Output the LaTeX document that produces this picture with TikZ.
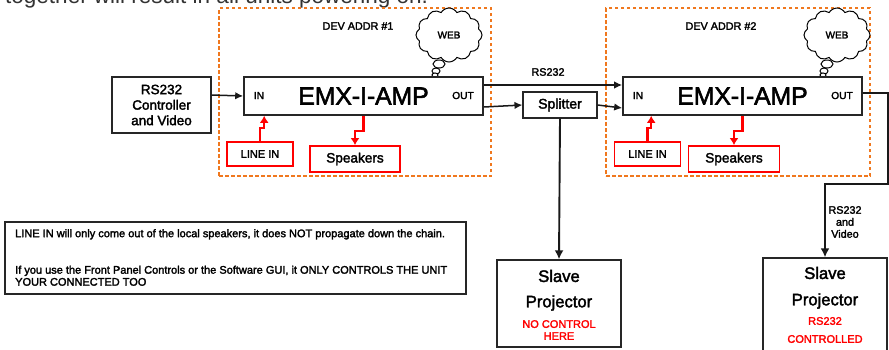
\documentclass[tikz,border=0pt]{standalone}
\usepackage{fontspec}
\setmainfont{Liberation Sans}
\newfontfamily\semib[FakeBold=2.2]{Liberation Sans}
\usetikzlibrary{shapes.symbols,shapes.geometric,arrows.meta,calc}
\definecolor{dashor}{RGB}{240,120,30}
\newcommand{\fs}[2]{\fontsize{#1}{#2}\selectfont}
\tikzset{
  box/.style={draw=black!85,line width=1.4pt,fill=white,inner sep=0pt,align=center,text=black},
  ampbox/.style={box,line width=1.6pt,minimum width=239,minimum height=38,font=\semib\fs{24.7}{26}},
  redbox/.style={draw=red,line width=1.8pt,fill=white,inner sep=0pt,align=center,font=\semib\fs{11}{12}},
  zone/.style={draw=dashor,line width=1.2pt,dash pattern=on 3.5pt off 2.5pt},
  lbl/.style={inner sep=0pt,align=center,font=\semib\fs{10.8}{12}},
  plug/.style={inner sep=0pt,font=\semib\fs{10.2}{12}},
  webcloud/.style={cloud,cloud puffs=12,cloud puff arc=120,aspect=1.2,draw=black,line width=1pt,fill=white,inner sep=0pt,minimum width=66,minimum height=54,font=\semib\fs{10}{12}},
  puff/.style={ellipse,draw=black,line width=1pt,fill=white,inner sep=0pt},
  wire/.style={draw=black!90,line width=1.5pt,-{Latex[length=8pt,width=7.5pt]}},
  heavywire/.style={wire,line width=1.9pt,-{Latex[length=9pt,width=9pt]}},
  redwire/.style={draw=red,line width=2.1pt,-{Latex[length=7pt,width=9pt]}},
}
\begin{document}
\begin{tikzpicture}[x=1pt,y=-1pt]
\useasboundingbox (0,0) rectangle (889,349);
\clip (0,0) rectangle (889,349);
% truncated heading
\node[anchor=base west,inner sep=0pt,text=black!80,font=\fs{22.5}{24}] (head) at (5,3) {together will result in all units powering on.};
% dashed zones
\node[zone,minimum width=272,minimum height=168,inner sep=0pt] (zone1) at (355,92) {};
\node[zone,minimum width=264,minimum height=168,inner sep=0pt] (zone2) at (738,92) {};
\node[lbl] (addr1) at (358,26) {DEV ADDR \#1};
\node[lbl] (addr2) at (721,26) {DEV ADDR \#2};
% clouds
\node[webcloud] (web1) at (449,35) {WEB};
\node[webcloud] (web2) at (837,35) {WEB};
\node[puff,minimum width=12,minimum height=8] (p1a) at (439,64) {};
\node[puff,minimum width=8,minimum height=6] (p1b) at (436,71) {};
\node[puff,minimum width=6,minimum height=4] (p1c) at (435,75) {};
\node[puff,minimum width=12,minimum height=8] (p2a) at (827,64) {};
\node[puff,minimum width=8,minimum height=6] (p2b) at (824,71) {};
\node[puff,minimum width=6,minimum height=4] (p2c) at (823,75) {};
% boxes
\node[box,minimum width=99,minimum height=56,font=\semib\fs{13.5}{15.5}] (ctrl) at (161.5,105) {RS232\\Controller\\and Video};
\node[ampbox] (amp1) at (363.5,96) {EMX-I-AMP};
\node[ampbox] (amp2) at (742.5,96) {EMX-I-AMP};
\node[plug] (in1) at (259,95.5) {IN};
\node[plug] (out1) at (463,95.5) {OUT};
\node[plug] (in2) at (638,95.5) {IN};
\node[plug] (out2) at (842,95.5) {OUT};
\node[redbox,minimum width=66,minimum height=24] (li1) at (260,154) {LINE IN};
\node[redbox,minimum width=66,minimum height=24] (li2) at (647.5,154) {LINE IN};
\node[redbox,minimum width=90,minimum height=26,font=\semib\fs{13.6}{14}] (sp1) at (355,159) {Speakers};
\node[redbox,minimum width=91,minimum height=26,font=\semib\fs{13.6}{14}] (sp2) at (734,159) {Speakers};
\node[box,line width=1.1pt,minimum width=74,minimum height=26,font=\semib\fs{14}{14}] (split) at (560,105) {Splitter};
\node[lbl] (rs) at (548,72) {RS232};
\node[box,minimum width=124,minimum height=87] (slave1) at (559,303.5) {};
\node[box,minimum width=124,minimum height=106] (slave2) at (825,311) {};
\node[inner sep=0pt,font=\semib\fs{16.6}{16}] (s1a) at (559,276) {Slave};
\node[inner sep=0pt,font=\semib\fs{16.6}{16}] (s1b) at (559,303) {Projector};
\node[inner sep=0pt,align=center,text=red,font=\semib\fs{11}{12}] (s1c) at (559,330) {NO CONTROL\\HERE};
\node[inner sep=0pt,font=\semib\fs{16.6}{16}] (s2a) at (825,273) {Slave};
\node[inner sep=0pt,font=\semib\fs{16.6}{16}] (s2b) at (825,301) {Projector};
\node[inner sep=0pt,text=red,font=\semib\fs{11}{12}] (s2c) at (825,321) {RS232};
\node[inner sep=0pt,text=red,font=\semib\fs{11}{12}] (s2d) at (825,339) {CONTROLLED};
\node[inner sep=0pt,align=center,font=\semib\fs{10.8}{12}] (rsv) at (845,222) {RS232\\and\\Video};
% note
\node[box,minimum width=461,minimum height=72,line width=1.1pt] (note) at (235.5,258) {};
\node[anchor=north west,inner sep=0pt,align=left,font=\semib\fs{11}{12}] (notetxt) at (15,229) {LINE IN will only come out of the local speakers, it does NOT propagate down the chain.\\[24.5pt]If you use the Front Panel Controls or the Software GUI, it ONLY CONTROLS THE UNIT\\YOUR CONNECTED TOO};
% connectors
\draw[wire] ($(ctrl.east)+(0,-10)$) -- (amp1.west);
\draw[wire] ($(amp1.east)+(0,-11)$) -- ($(amp2.west)+(0,-11)$);
\draw[wire] ($(amp1.east)+(0,11)$) -- (split.west);
\draw[wire] (split.east) -- ($(amp2.west)+(0,12)$);
\draw[heavywire] (split.south) -- (slave1.north);
\draw[heavywire] ($(amp2.east)+(0,-3)$) -- ++(25,0) -- ++(0,91) -- (slave2.north |- 0,184) -- (slave2.north);
\draw[redwire] (li1.north) -- ++(0,-13) -| ($(amp1.south west)+(21,0)$);
\draw[redwire] (li2.north) -- ++(0,-13) -| ($(amp2.south west)+(29,0)$);
\draw[redwire] (amp1.south) -- ++(0,15) -| (sp1.north);
\draw[redwire] (amp2.south) -- ++(0,15) -| (sp2.north);
\end{tikzpicture}
\end{document}
